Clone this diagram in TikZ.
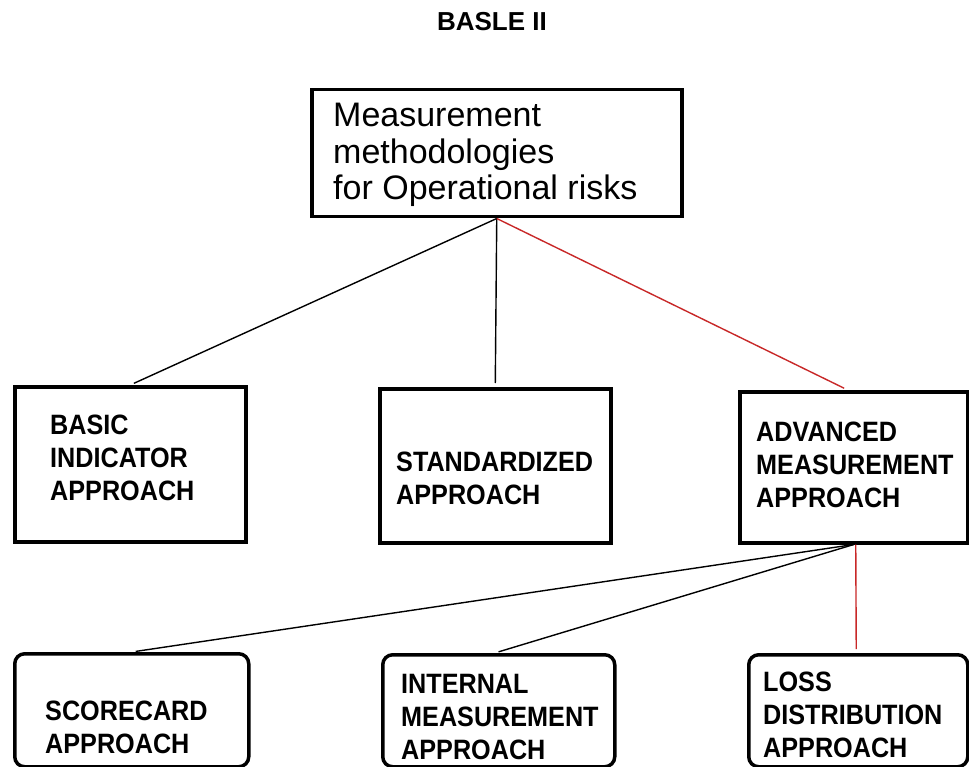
\documentclass[tikz,border=0pt]{standalone}
\usepackage{fontspec}
\setmainfont{Liberation Sans}
\newfontfamily\boxfont[FakeStretch=0.9]{Liberation Sans Bold}
\definecolor{linkred}{RGB}{200,40,40}
\begin{document}
\begin{tikzpicture}[x=1pt,y=-1pt,
  box/.style={draw=black, line width=3.5pt, rectangle, inner sep=0pt, anchor=north west},
  rbox/.style={box, rounded corners=10pt},
  lbl/.style={font=\boxfont\fontsize{28}{33}\selectfont, align=left, inner sep=0pt, anchor=north west},
  toplbl/.style={font=\fontsize{34}{36.5}\selectfont, align=left, inner sep=0pt, anchor=north west},
  link/.style={draw=black, line width=1.4pt, shorten >=4pt},
  redlink/.style={draw=linkred, line width=1.4pt, shorten >=4pt}]
\useasboundingbox (0,0) rectangle (969,767);
\fill[white] (0,0) rectangle (969,767);

\node[font=\bfseries\fontsize{26}{30}\selectfont, anchor=base] (title) at (492,31) {BASLE II};

\node[box, minimum width=370pt, minimum height=127pt] (top) at (310,88) {};
\node[toplbl] (top-t) at (333,103) {Measurement\\methodologies\\for Operational risks};

\node[box, minimum width=231pt, minimum height=155pt] (basic) at (13,385) {};
\node[lbl] (basic-t) at (50,415) {BASIC\\INDICATOR\\APPROACH};

\node[box, minimum width=231pt, minimum height=154pt] (std) at (378,387) {};
\node[lbl] (std-t) at (396,452) {STANDARDIZED\\APPROACH};

\node[box, minimum width=228pt, minimum height=151pt] (adv) at (738,390) {};
\node[lbl] (adv-t) at (756,422) {ADVANCED\\MEASUREMENT\\APPROACH};

\node[rbox, minimum width=234pt, minimum height=113pt] (score) at (13,652) {};
\node[lbl] (score-t) at (45,701) {SCORECARD\\APPROACH};

\node[rbox, minimum width=232pt, minimum height=112pt] (internal) at (381,653) {};
\node[lbl] (internal-t) at (401,674) {INTERNAL\\MEASUREMENT\\APPROACH};

\node[rbox, minimum width=219pt, minimum height=112pt] (loss) at (747,653) {};
\node[lbl] (loss-t) at (763,672) {LOSS\\DISTRIBUTION\\APPROACH};

\draw[link] (top.south) -- (basic.north);
\draw[link] (top.south) -- (std.north);
\draw[redlink] (top.south) -- ([xshift=-6pt]adv.north);
\draw[link] (adv.south) -- (score.north);
\draw[link] (adv.south) -- ([xshift=-4pt]internal.north);
\draw[redlink] ([xshift=2pt]adv.south) -- ([xshift=-2pt]loss.north);
\end{tikzpicture}
\end{document}
